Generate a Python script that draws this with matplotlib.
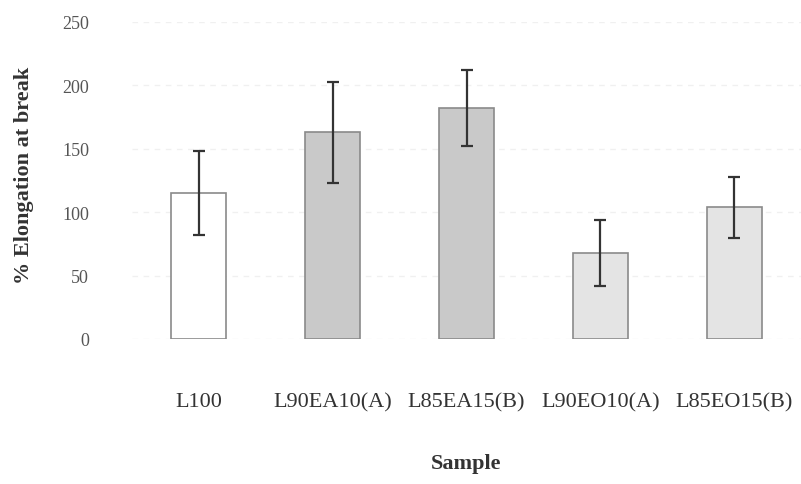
import matplotlib.pyplot as plt

# 样品名称和断裂伸长率
samples = ["L100", "L90EA10(A)", "L85EA15(B)", "L90EO10(A)", "L85EO15(B)"]
elongation = [115, 163, 182, 68, 104]
errors = [33, 40, 30, 26, 24]
colors = ["white", "#c9c9c9", "#c9c9c9", "#e4e4e4", "#e4e4e4"]
yticks = [0, 50, 100, 150, 200, 250]

plt.rcParams['font.family'] = ['Liberation Serif', 'DejaVu Serif']

fig = plt.figure(figsize=(8.01, 4.85), dpi=100)
ax = fig.add_axes([132 / 801, 0.299, 669 / 801, 0.6536])

x = list(range(len(samples)))
ax.bar(x, elongation, width=0.41, color=colors, edgecolor="#8a8a8a", linewidth=1.2, zorder=2)
ax.errorbar(x, elongation, yerr=errors, fmt="none", ecolor="#333333",
            elinewidth=1.6, capsize=4, capthick=1.6, zorder=3)

ax.set_xlim(-0.5, 4.5)
ax.set_ylim(0, 250)
ax.set_yticks(yticks)
ax.set_yticklabels([str(v) for v in yticks], fontsize=13, color="#555555")
ax.set_xticks(x)
ax.set_xticklabels(samples, fontsize=16, color="#333333")
ax.tick_params(axis="y", length=0, pad=31)
ax.tick_params(axis="x", length=0, pad=38)
ax.grid(axis="y", color="#f0f0f0", linestyle=(0, (4, 4)), linewidth=1, zorder=0)
for s in ax.spines.values():
    s.set_visible(False)

ax.set_ylabel("% Elongation at break", fontsize=16, fontweight="bold", color="#333333")
ax.yaxis.set_label_coords(-0.147, 0.52)
ax.set_xlabel("Sample", fontsize=16, fontweight="bold", color="#333333", labelpad=30)

plt.savefig("out.png", dpi=100)
